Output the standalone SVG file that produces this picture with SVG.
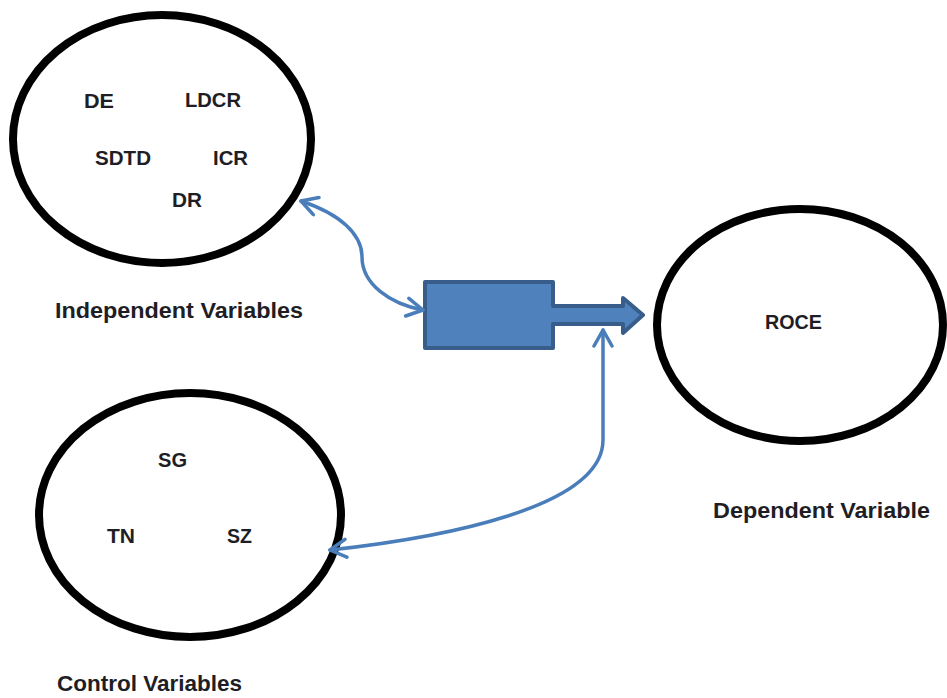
<svg xmlns="http://www.w3.org/2000/svg" width="947" height="698" viewBox="0 0 947 698">
  <style>
    .set { fill: none; stroke: #000; stroke-width: 8; }
    .lbl { font-family: "Liberation Sans", Arial, sans-serif; font-weight: bold; fill: #1e1e24; }
    .item { font-size: 19.5px; }
    .cap { font-size: 22px; }
    .link { fill: none; stroke: #4A7EBB; stroke-width: 3.5; stroke-linecap: round; marker-start: url(#open); marker-end: url(#open); }
  </style>
  <defs>
    <marker id="open" viewBox="0 0 22 22" refX="20" refY="11" markerWidth="22" markerHeight="22" markerUnits="userSpaceOnUse" orient="auto-start-reverse">
      <path d="M4,2 L20,11 L4,20" fill="none" stroke="#4A7EBB" stroke-width="3.5" stroke-linecap="round" stroke-linejoin="round"/>
    </marker>
  </defs>

  <rect width="947" height="698" fill="#fff"/>

  <g id="independent">
    <ellipse class="set" cx="162" cy="139" rx="149" ry="124"/>
    <text class="lbl item" x="84" y="108" textLength="30" lengthAdjust="spacingAndGlyphs">DE</text>
    <text class="lbl item" x="185" y="107" textLength="56" lengthAdjust="spacingAndGlyphs">LDCR</text>
    <text class="lbl item" x="95" y="165" textLength="56" lengthAdjust="spacingAndGlyphs">SDTD</text>
    <text class="lbl item" x="213" y="165" textLength="35" lengthAdjust="spacingAndGlyphs">ICR</text>
    <text class="lbl item" x="172" y="207" textLength="30" lengthAdjust="spacingAndGlyphs">DR</text>
    <text class="lbl cap" x="55" y="318" textLength="248" lengthAdjust="spacingAndGlyphs">Independent Variables</text>
  </g>

  <g id="control">
    <ellipse class="set" cx="190" cy="515" rx="151" ry="122"/>
    <text class="lbl item" x="158" y="467" textLength="29" lengthAdjust="spacingAndGlyphs">SG</text>
    <text class="lbl item" x="107" y="543" textLength="28" lengthAdjust="spacingAndGlyphs">TN</text>
    <text class="lbl item" x="227" y="543" textLength="25" lengthAdjust="spacingAndGlyphs">SZ</text>
    <text class="lbl cap" x="57" y="691" textLength="185" lengthAdjust="spacingAndGlyphs">Control Variables</text>
  </g>

  <g id="dependent">
    <ellipse class="set" cx="800" cy="325" rx="143" ry="116"/>
    <text class="lbl item" x="765" y="329" textLength="57" lengthAdjust="spacingAndGlyphs">ROCE</text>
    <text class="lbl cap" x="713" y="518" textLength="217" lengthAdjust="spacingAndGlyphs">Dependent Variable</text>
  </g>

  <g id="model">
    <path d="M425,282 H553 V306 H623 V298 L643,315 L623,333 V324 H553 V348 H425 Z" fill="#4F81BD" stroke="#385D8A" stroke-width="4" stroke-linejoin="round"/>
  </g>

  <g id="connectors">
    <path class="link" d="M301,201 C340,214 362,234 362,257 C362,284 390,304 423,310"/>
    <path class="link" d="M603,330 V440 C603,508 440,538 330,550"/>
  </g>
</svg>
